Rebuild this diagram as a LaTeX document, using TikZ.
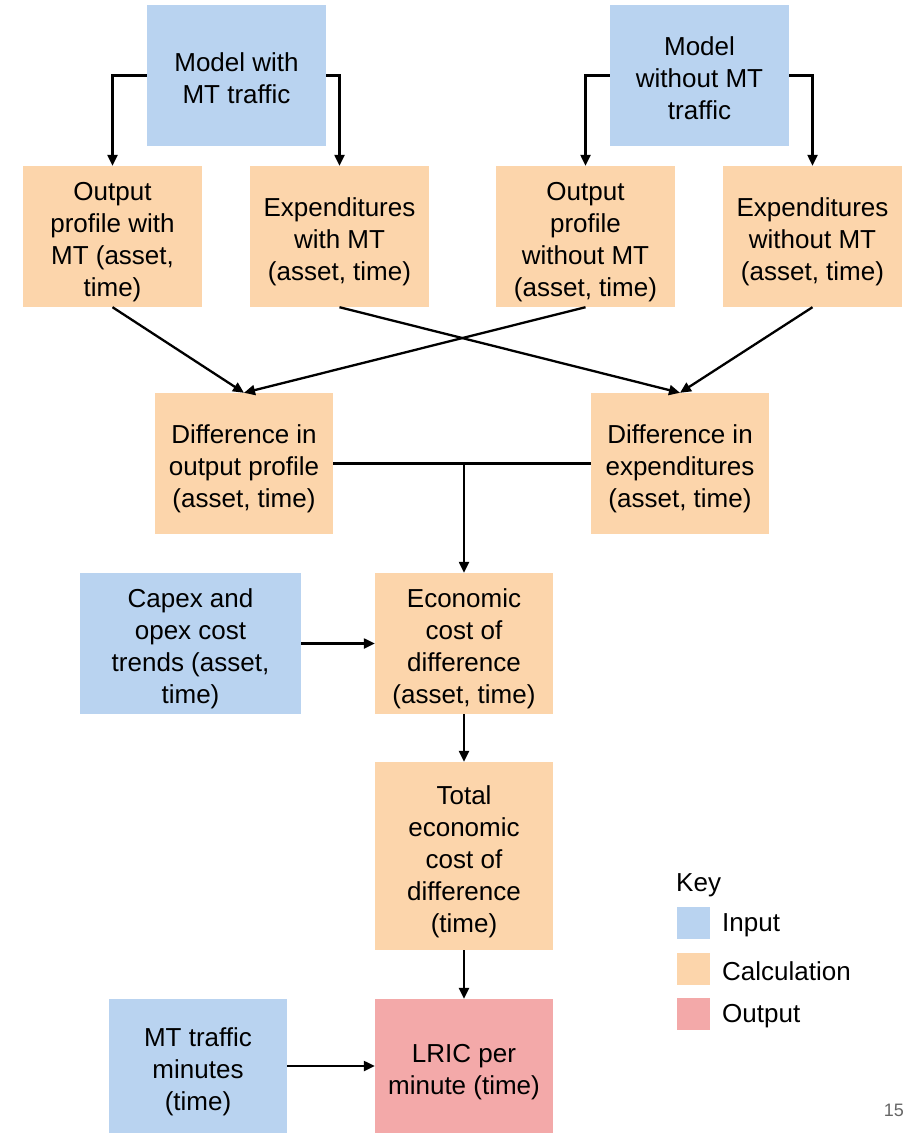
\documentclass[tikz,border=0pt]{standalone}
\usepackage{fontspec}
\setmainfont{Liberation Sans}
\usetikzlibrary{arrows.meta,calc}
\definecolor{inblue}{RGB}{185,211,240}
\definecolor{calcorange}{RGB}{252,213,171}
\definecolor{outred}{RGB}{243,169,169}
% centred block of lines with extra room on top, so it sits a little low in its box
\newcommand{\boxlines}[1]{\raisebox{0pt}[\dimexpr\height+12pt\relax][\depth]{\begin{tabular}{@{}c@{}}#1\end{tabular}}}
\tikzset{
  box/.style={rectangle, draw=none, inner xsep=2pt, inner ysep=0pt,
    minimum width=179pt, minimum height=141pt,
    font=\fontsize{26}{32}\selectfont},
  inbox/.style={box, fill=inblue},
  calcbox/.style={box, fill=calcorange},
  outbox/.style={box, fill=outred},
  link/.style={line width=2.3pt, -{Triangle[length=11pt,width=10pt]}},
  plainlink/.style={line width=2.3pt},
  keytext/.style={anchor=west, inner sep=0pt, font=\fontsize{26}{32}\selectfont},
  keysq/.style={rectangle, minimum width=33pt, minimum height=32pt, inner sep=0pt},
}
\begin{document}
\begin{tikzpicture}[x=1pt, y=-1pt]
\useasboundingbox (0,0) rectangle (905,1134);

% models
\node[inbox] (m1) at (236.5,75.5) {\boxlines{Model with\\MT traffic}};
\node[inbox] (m2) at (699.5,75.5) {\boxlines{Model\\without MT\\traffic}};

% raw outputs of the two models
\node[calcbox] (op1) at (112.5,236.5) {\boxlines{Output\\profile with\\MT (asset,\\time)}};
\node[calcbox] (ex1) at (339.5,236.5) {\boxlines{Expenditures\\with MT\\(asset, time)}};
\node[calcbox] (op2) at (585.5,236.5) {\boxlines{Output\\profile\\without MT\\(asset, time)}};
\node[calcbox] (ex2) at (812.5,236.5) {\boxlines{Expenditures\\without MT\\(asset, time)}};

% differences
\node[calcbox, minimum width=178pt] (d1) at (244,463.5) {\boxlines{Difference in\\output profile\\(asset, time)}};
\node[calcbox, minimum width=178pt] (d2) at (680,463.5) {\boxlines{Difference in\\expenditures\\(asset, time)}};

% costing
\node[inbox, minimum width=221pt] (cap) at (190.5,643.5) {\boxlines{Capex and\\opex cost\\trends (asset,\\time)}};
\node[calcbox, minimum width=178pt] (econ) at (464,643.5) {\boxlines{Economic\\cost of\\difference\\(asset, time)}};
\node[calcbox, minimum width=178pt, minimum height=188pt] (tot) at (464,856) {\boxlines{Total\\economic\\cost of\\difference\\(time)}};
\node[inbox, minimum width=178pt, minimum height=134pt] (mt) at (198,1066) {\boxlines{MT traffic\\minutes\\(time)}};
\node[outbox, minimum width=178pt, minimum height=134pt] (lric) at (464,1066) {\boxlines{LRIC per\\minute (time)}};

% connectors
\draw[link] (m1.west) -| (op1.north);
\draw[link] (m1.east) -| (ex1.north);
\draw[link] (m2.west) -| (op2.north);
\draw[link] (m2.east) -| (ex2.north);

\draw[link] (op1.south) -- (d1.north);
\draw[link] (op2.south) -- (d1.north);
\draw[link] (ex1.south) -- (d2.north);
\draw[link] (ex2.south) -- (d2.north);

\coordinate (j) at (econ.north |- d1.east);
\draw[plainlink] (d1.east) -- (d2.west);
\draw[link] (j) -- (econ.north);
\draw[link] (cap.east) -- (econ.west);
\draw[link] (econ.south) -- (tot.north);
\draw[link] (tot.south) -- (lric.north);
\draw[link] (mt.east) -- (lric.west);

% key
\node[keytext] (keyt) at (676,885) {Key};
\node[keysq, fill=inblue] (k1) at (693,923) {};
\node[keysq, fill=calcorange] (k2) at (693,969) {};
\node[keysq, fill=outred] (k3) at (693,1014) {};
\node[keytext] (k1t) at (722,925) {Input};
\node[keytext] (k2t) at (722,971) {Calculation};
\node[keytext] (k3t) at (722,1016) {Output};

% page number
\node[anchor=east, inner sep=0pt, text=black!60, font=\fontsize{18}{20}\selectfont] (pg) at (904,1110) {15};
\end{tikzpicture}
\end{document}
